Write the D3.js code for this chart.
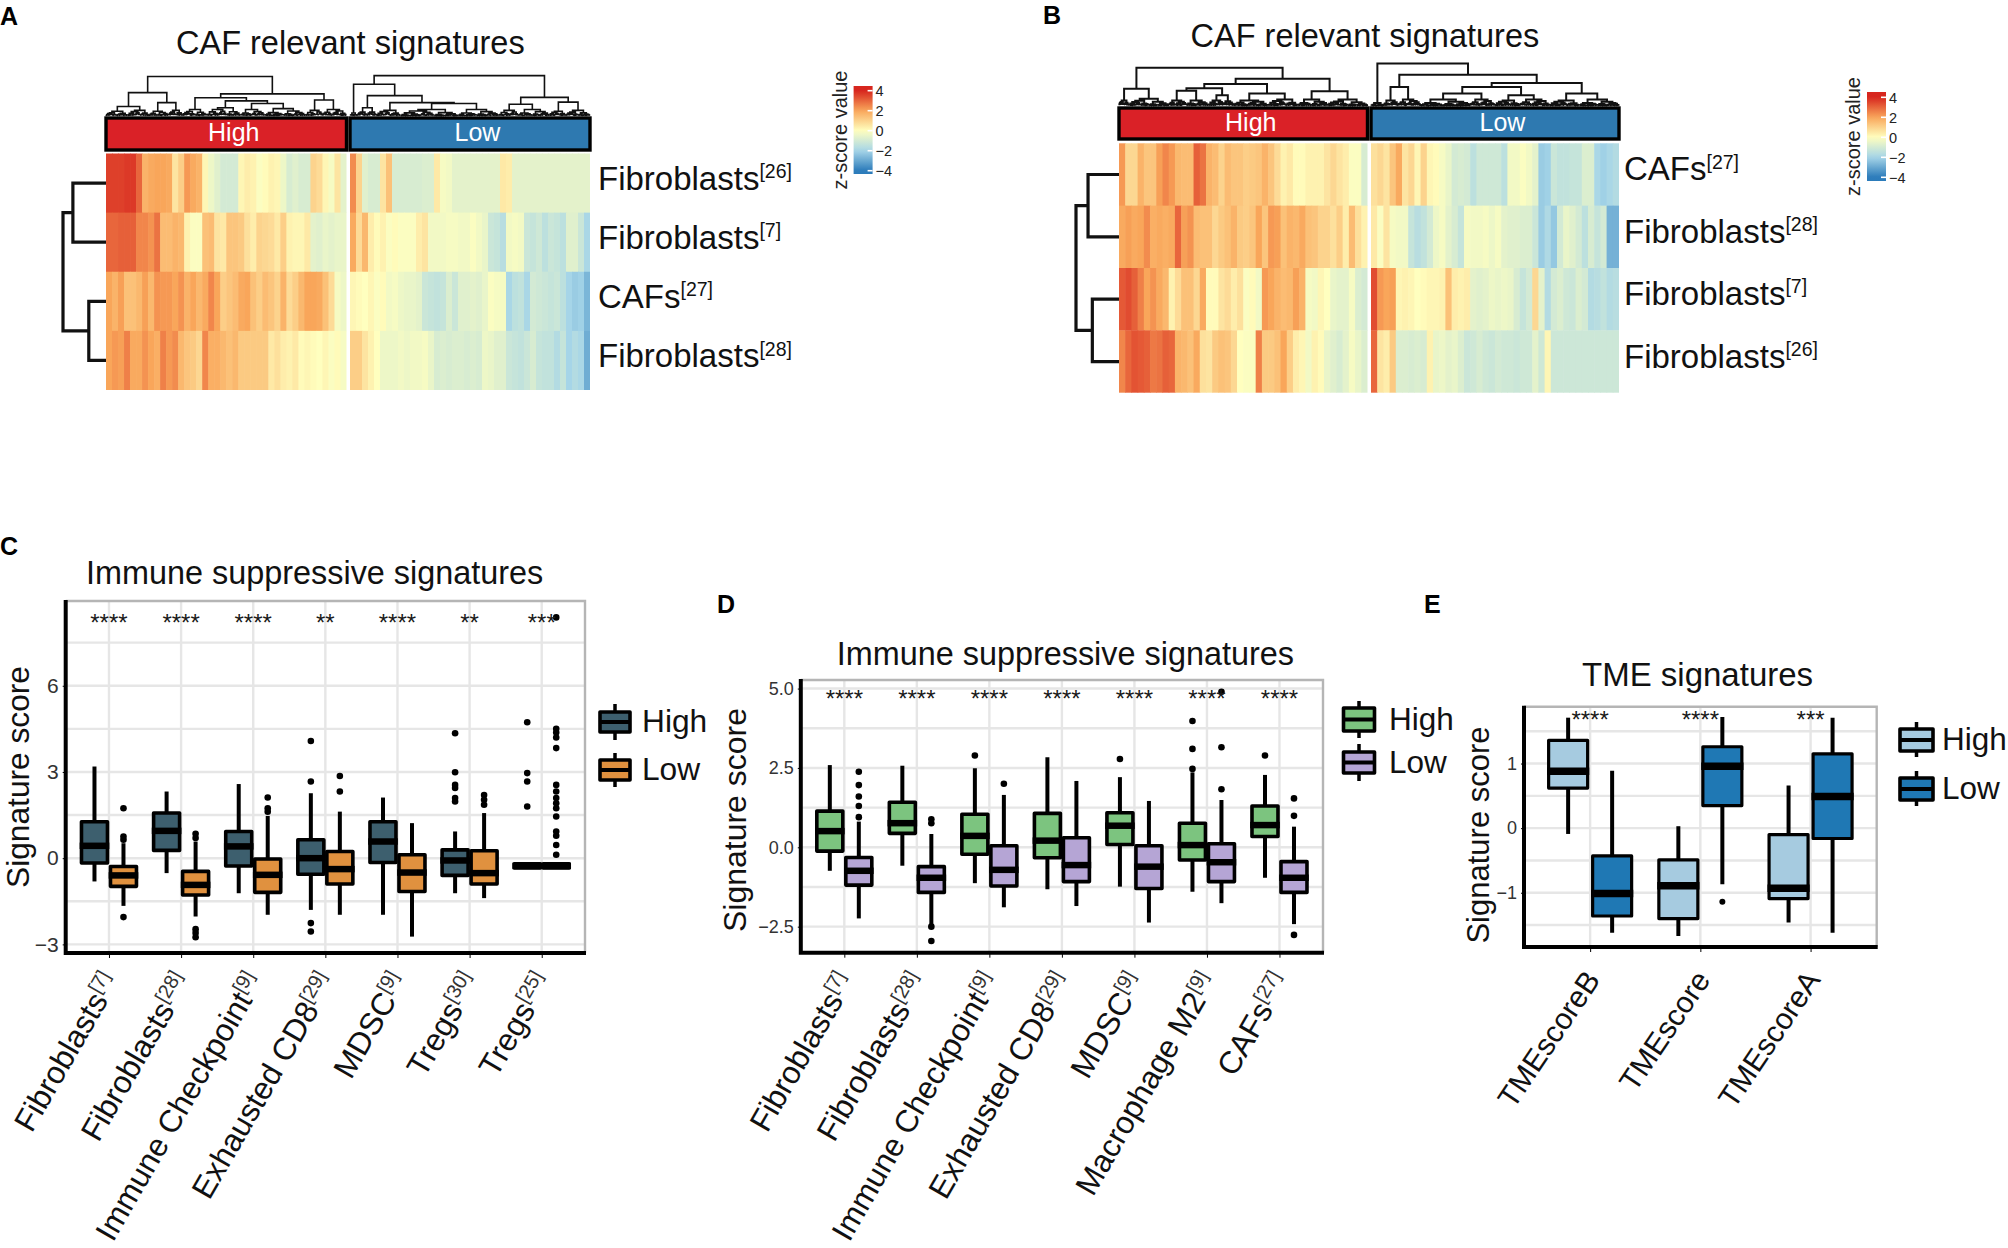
<!DOCTYPE html>
<html><head><meta charset="utf-8">
<script src="https://cdn.jsdelivr.net/npm/d3@7/dist/d3.min.js"></script>
<style>html,body{margin:0;background:#fff}svg{display:block}text{font-family:"Liberation Sans",Arial,sans-serif}</style>
</head><body><svg id="c" width="2008" height="1248"></svg>
<script>
// ===== Heatmap A =====
const rowsA=['Fibroblasts','Fibroblasts','CAFs','Fibroblasts'], supA=['[26]','[7]','[27]','[28]'];
const aHigh26=[3.6,3.6,3.6,3.7,3.7,3.0,1.7,1.9,2.0,2.0,1.9,.6,1.1,2.2,1.9,1.7,.2,-.4,-.7,-1,-1,-1,.2,.4,.3,-.1,.1,.3,.2,-.4,-.9,-.7,-.9,-.9,1.0,.8,.2,-.2,.6,-.6];
const aLow26=[2.4,1.0,-.7,-.9,-.9,.6,1.4,-.9,-.9,-.9,-.9,-.9,-.8,-.8,.5,-.2,-.3,-.6,-.6,-.6,-.6,-.6,-.6,-.6,-.6,.5,.4,-.6,-.6,-.6,-.6,-.6,-.6,-.6,-.6,-.6,-.6,-.6,-.6,-.6];
const aHigh7=[3.0,3.0,3.1,3.1,3.1,2.5,2.5,2.3,2.8,1.5,1.5,1.7,1.6,.3,-.1,-.1,1.4,1.5,.6,.5,1.3,1.3,1.2,.7,.4,1.0,.9,.8,.5,1.1,.3,.2,.2,.5,-.6,-.7,-.5,-.6,-.5,-.5];
const aLow7=[1.9,.8,1.6,.4,.1,.3,-.1,.1,-.1,-.1,-.1,.4,.6,-.3,-.3,-.3,-.2,-.2,-.3,-.3,-.1,-.3,-.5,-1.2,-1.3,-1.6,-.3,-.2,-.3,-1.2,-1.3,-1.1,-1.5,-1.2,-1.3,-1.5,-.7,-.7,-1.2,-1.9];
const aHigh27=[2.0,1.7,2.1,1.4,1.4,1.6,2.1,1.6,2.3,2.2,2.2,2.0,2.3,1.7,2.0,1.6,1.9,2.5,2.0,1.1,1.3,1.5,1.9,2.0,1.4,1.1,1.5,1.3,1.0,1.7,.8,1.1,1.6,2.0,2.0,1.9,1.4,.8,-.2,-.4];
const aLow27=[.2,.1,0,.2,-.1,.1,-.3,-.2,-.4,-.5,-.5,-.6,-1.2,-1.3,-1.4,-1.3,-.8,-1.2,-.7,-.7,-.6,-.7,-.5,-.1,-.2,-.2,-1.9,-1.5,-1.4,-1.9,-1.0,-1.1,-1.2,-1.3,-1.2,-1.5,-2.0,-2.2,-2.1,-2.7];
const aHigh28=[2.0,2.2,2.1,2.6,1.9,1.9,2.3,2.0,1.8,2.6,2.2,2.4,1.6,1.3,1.2,.9,2.5,1.8,1.8,1.6,1.4,1.6,1.2,1.2,1.2,1.2,1.2,.5,.7,.4,.3,.5,.1,.2,.1,0,.2,-.1,.1,-.2];
const aLow28=[1.1,1.1,.6,.3,0,-.4,-.4,-.4,-.3,-.4,-.3,-.3,-.2,-.5,-.9,-.8,-.9,-.8,-.8,-.9,-.8,-.9,-.4,-.5,-.7,-.7,-1.2,-1.3,-1.4,-1.2,-.9,-1.3,-1.4,-1.4,-1.7,-1.3,-2.0,-1.7,-1.9,-2.9];
// ===== Heatmap B =====
const rowsB=['CAFs','Fibroblasts','Fibroblasts','Fibroblasts'], supB=['[27]','[28]','[7]','[26]'];
const bHigh27=[2.2,.9,.9,1.7,1.3,1.3,2.1,2.5,2.2,1.6,1.5,1.5,3.1,2.8,1.7,1.5,1.0,1.5,1.3,1.3,1.1,1.2,1.3,1.7,1.3,.8,.3,.5,.1,.1,.3,.3,.3,.6,.9,.6,.4,-.1,-.1,-.9];
const bLow27=[.7,.9,.6,1.3,1.9,.6,.9,.2,1.0,.2,.1,-.2,-.5,-1.0,-.9,-1.0,-1.5,-1.1,-1.1,-1.1,-1.1,-1.5,-.3,-.3,-.1,-.3,-.6,-2.2,-2.1,-1.2,-1.4,-1.4,-1.3,-1.3,-.8,-.8,-1.9,-2.1,-1.9,-1.7];
const bHigh28=[1.9,2.1,1.9,2.0,2.4,1.8,1.9,1.8,1.9,3.0,2.1,2.3,1.5,1.4,1.4,.9,1.2,1.4,1.7,1.2,1.1,1.3,2.0,1.3,2.2,2.1,1.4,1.7,1.6,1.9,1.4,1.3,1.0,1.0,.7,1.1,.4,1.5,.7,.3];
const bLow28=[.5,-.1,.6,-.2,-.3,-.3,-1.3,-1.6,-1.4,-1.0,-.4,-.2,-.6,-.9,-1.3,-.2,-.3,-.3,-.2,-.4,-.2,-.6,-.7,-.7,-.8,-.8,-1.2,-2.2,-1.8,-2.3,-1.0,-.5,-.7,-1.0,-1.5,-.9,-1.3,-1.0,-2.8,-2.8];
const bHigh7=[3.2,3.4,3.1,2.6,2.0,2.3,1.9,1.6,.3,.8,1.4,1.4,.9,1.9,.1,.1,.6,.8,.4,.7,-.1,.1,-.3,2.2,2.0,1.7,1.5,1.6,2.1,1.7,-.2,-.3,.2,0,-.5,-.6,-.6,-.2,-.8,-1.0];
const bLow7=[3.4,2.2,2.0,2.1,.2,.3,.2,0,.1,.2,.2,.3,1.4,.4,.3,.4,-.6,-.7,-.6,-.4,-.5,-.4,-.5,-.9,-1.3,-1.0,.9,-.6,-1.7,-1.0,-.8,-1.1,-1.2,-.8,-1.0,-1.7,-1.6,-1.4,-1.7,-1.6];
const bHigh26=[2.5,3.0,3.3,3.2,3.1,2.7,2.8,3.1,3.0,1.7,1.6,1.4,1.9,.7,.6,1.2,1.4,1.3,.9,0,-.1,-.1,2.6,1.2,1.2,1.4,2.0,1.1,.4,.2,-.3,.3,.1,-.5,-.7,-.9,-.6,-.2,-.5,-.8];
const bLow26=[3.0,.6,.4,1.2,-.8,-.8,-.9,-.8,-.9,.3,-.5,-.4,-.6,-.5,-.8,-1.2,-1.1,-.9,-1.1,-1.2,-1.0,-1.1,-1.1,-1.2,-1.1,-1.1,-.6,-1.1,.2,-1.15,-1.15,-1.15,-1.15,-1.15,-1.15,-1.15,-1.15,-1.15,-1.15,-1.15];
// dendrograms: [height, left, right]; a leaf bush is [from%, to%, height]
const treeAHigh=[92,[55,[23,[0,9,12],[9,18,14]],[32,[18,26,12],[26,32,14]]],[52,[43,[32,42,16],[36,[42,56,20],[30,[56,66,16],[66,83,18]]]],[38,[83,90,14],[90,100,16]]]];
const treeALow=[94,[74,[8,[0,1.5,4],[1.5,3,4]],[48,[20,[3,7,10],[7,11,10]],[32,[11,21,14],[30,[21,45,16],[45,62,16]]]]],[44,[28,[62,70,14],[70,83,16]],[33,[83,90,12],[90,100,14]]]];
const treeBHigh=[89,[41,[0,4,14],[4,20,18]],[64,[52,[42,[36,[20,27,14],[27,36,14]],[26,[36,42,14],[42,46,12]]],[30,[46,60,14],[60,72,16]]],[35,[72,84,16],[84,100,16]]]];
const treeBLow=[99,[8,[0,2.5,4],[2.5,5,4]],[73,[45,[5,11,14],[11,20,16]],[54,[45,[30,[20,40,16],[40,50,16]],[26,[50,60,14],[60,72,16]]],[30,[72,84,14],[84,100,16]]]]];
const hairRatio=[.72,.6,.8,.55,.66,.75,.5,.7,.62,.78], hairSplit=[.5,.42,.58,.36,.6,.5,.45,.55,.4,.62];
// left-hand row dendrograms
const rowTreeA=[100,[77,0,1],[40,2,3]], rowTreeB=[100,[72,0,1],[62,2,3]];
// colour legend
const zStops=[-4,-2,0,2,4], zColors=['#2b7bba','#a6d5e8','#ffffbf','#f9a65a','#d7261e'], zTicks=[4,2,0,-2,-4];
const groups=['High','Low'];
// ===== Panel C =====
const catsC=['Fibroblasts','Fibroblasts','Immune Checkpoint','Exhausted CD8','MDSC','Tregs','Tregs'], supC=['[7]','[28]','[9]','[29]','[9]','[30]','[25]'];
const starsC=['****','****','****','**','****','**','***'], ticksC=[-3,0,3,6], minorC=[-1.5,1.5,4.5,7.5];
const cHigh={wl:[-.81,-.52,-1.22,-1.8,-1.97,-1.22,-.27],q1:[-.17,.27,-.27,-.56,-.15,-.6,-.27],med:[.43,.95,.41,0,.58,-.08,-.27],q3:[1.27,1.57,.93,.64,1.27,.29,-.27],wu:[3.19,2.32,2.58,2.26,2.11,.93,-.27]};
const cLow={wl:[-1.66,-2.03,-1.97,-1.97,-2.73,-1.39,-.27],q1:[-.98,-1.28,-1.19,-.9,-1.16,-.9,-.27],med:[-.6,-.93,-.58,-.38,-.5,-.52,-.27],q3:[-.29,-.46,-.03,.23,.12,.26,-.27],wu:[.52,.58,1.47,1.62,1.22,1.57,-.27]};
const cHighOut=[[],[],[],[2.67,4.08,-2.26,-2.55],[],[4.35,2.99,2.55,2.44,2.09,1.97],[4.73,2.96,2.67,1.8]];
const cLowOut=[[1.74,.75,.64,-2.05],[.85,.7,-2.47,-2.6,-2.75],[2.11,1.74,1.62],[2.86,2.32],[],[2.2,2.03,1.86],[8.38,4.5,4.37,4.2,3.83,2.55,2.32,2.09,1.91,1.74,1.45,.93,.78,.46,.12]];
// ===== Panel D =====
const catsD=['Fibroblasts','Fibroblasts','Immune Checkpoint','Exhausted CD8','MDSC','Macrophage M2','CAFs'], supD=['[7]','[28]','[9]','[29]','[9]','[9]','[27]'];
const starsD=['****','****','****','****','****','****','****'], ticksD=[-2.5,0,2.5,5], minorD=[-1.25,1.25,3.75];
const dHigh={wl:[-.74,-.58,-1.13,-1.32,-1.24,-1.4,-.96],q1:[-.12,.44,-.22,-.33,.09,-.4,.34],med:[.51,.76,.36,.21,.68,.07,.7],q3:[1.14,1.42,1.04,1.07,1.09,.76,1.3],wu:[2.59,2.57,2.49,2.84,2.21,2.36,2.28]};
const dLow={wl:[-2.24,-2.45,-1.89,-1.85,-2.37,-1.76,-2.42],q1:[-1.19,-1.42,-1.22,-1.08,-1.3,-1.08,-1.42],med:[-.74,-.96,-.71,-.56,-.61,-.47,-.96],q3:[-.32,-.61,.05,.3,.05,.11,-.45],wu:[.81,.42,1.65,2.09,1.46,1.49,.65]};
const dHighOut=[[],[],[2.89],[],[2.78],[3.98,3.1,2.47],[2.89]];
const dLowOut=[[2.38,1.96,1.6,1.3,.95],[.88,.76,-2.5,-2.95],[2.0],[],[],[4.9,3.15,1.83],[1.54,.99,-2.76]];
// ===== Panel E =====
const catsE=['TMEscoreB','TMEscore','TMEscoreA'], supE=['','',''], starsE=['****','****','***'], ticksE=[-1,0,1], minorE=[-1.5,-.5,.5,1.5];
const eHigh={wl:[-.09,-1.67,-1.46],q1:[.62,-1.4,-1.09],med:[.88,-.89,-.93],q3:[1.36,-.49,-.1],wu:[1.71,.03,.66]};
const eLow={wl:[-1.62,-.87,-1.62],q1:[-1.36,.35,-.16],med:[-1.01,.96,.49],q3:[-.43,1.26,1.15],wu:[.89,1.72,1.71]};
const eHighOut=[[],[],[]], eLowOut=[[],[-1.14],[]];

const svg=d3.select('#c');
const defs=svg.append('defs');
const FONT='"Liberation Sans",Arial,sans-serif';
const color=d3.scaleLinear().domain(zStops).range(zColors).clamp(true);
const txt=(g,x,y,s,size,o={})=>g.append('text').attr('x',x).attr('y',y).attr('font-size',size).attr('fill',o.fill||'#111').attr('text-anchor',o.anchor||'start').attr('font-weight',o.weight||null).text(s);
function supText(g,x,y,s,sup,size,ssize){
  const t=g.append('text').attr('x',x).attr('y',y).attr('font-size',size).attr('fill','#111');
  t.append('tspan').text(s);
  t.append('tspan').attr('font-size',ssize).attr('dy',-size*.36).text(sup);
}
function drawHeat(p){
  const g=svg.append('g');
  const yR=d3.scaleBand().domain(d3.range(p.rows.length)).range([p.y0,p.y1]);
  [[p.x0,p.xm0,p.high],[p.xm1,p.x1,p.low]].forEach(([a,b,mat],side)=>{
    mat.forEach((vals,r)=>{
      const xB=d3.scaleBand().domain(d3.range(vals.length)).range([a,b]);
      g.selectAll(null).data(vals).join('rect')
        .attr('x',(d,i)=>xB(i)).attr('y',yR(r)).attr('width',(d,i)=>xB.bandwidth()+(i<vals.length-1?.6:0)).attr('height',yR.bandwidth()+(r<mat.length-1?.4:0)).attr('fill',d=>color(d));
    });
    // annotation bar
    g.append('rect').attr('x',a).attr('y',p.ay0).attr('width',b-a).attr('height',p.ay1-p.ay0).attr('fill',side?'#2e79b0':'#da2127').attr('stroke','#000').attr('stroke-width',3.4);
    txt(g,(a+b)/2+7.5,p.ay1-(p.ay1-p.ay0)*.3+1,groups[side],25,{fill:'#fff',anchor:'middle'});
    // column dendrogram
    const tree=side?p.treeLow:p.treeHigh;
    const xS=d3.scaleLinear().domain([0,100]).range([a,b]), hS=d3.scaleLinear().domain([0,100]).range([p.ay0-1.5,p.dTop]);
    const path=d3.path(); let c=0;
    const bush=(from,to,h,depth)=>{
      if(xS(to)-xS(from)<1.3||depth>10) return (from+to)/2;
      const m=from+(to-from)*hairSplit[c%hairSplit.length];
      const hl=h*hairRatio[c++%hairRatio.length], hr=h*hairRatio[c++%hairRatio.length];
      const xa=bush(from,m,hl,depth+1), xb=bush(m,to,hr,depth+1);
      link(xa,xb,hl,hr,h); return (xa+xb)/2;
    };
    const link=(xa,xb,ha,hb,h)=>{path.moveTo(xS(xa),hS(ha));path.lineTo(xS(xa),hS(h));path.lineTo(xS(xb),hS(h));path.lineTo(xS(xb),hS(hb));};
    const walk=n=>{
      if(n.length===3&&typeof n[0]==='number'&&typeof n[1]==='number'){ return {x:bush(n[0],n[1],n[2],0),h:n[2]}; }
      const l=walk(n[1]),r=walk(n[2]); link(l.x,r.x,l.h,r.h,n[0]); return {x:(l.x+r.x)/2,h:n[0]};
    };
    walk(tree);
    g.append('path').attr('d',path.toString()).attr('fill','none').attr('stroke','#111').attr('stroke-width',p.hair);
  });
  // row dendrogram
  const hS=d3.scaleLinear().domain([0,100]).range([p.x0,p.rootX]);
  const lp=d3.path();
  const cy=i=>yR(i)+yR.bandwidth()/2;
  const wr=n=>{ if(typeof n==='number') return {y:cy(n),h:0};
    const a=wr(n[1]),b=wr(n[2]); lp.moveTo(hS(a.h),a.y);lp.lineTo(hS(n[0]),a.y);lp.lineTo(hS(n[0]),b.y);lp.lineTo(hS(b.h),b.y); return {y:(a.y+b.y)/2,h:n[0]}; };
  wr(p.rowTree);
  g.append('path').attr('d',lp.toString()).attr('fill','none').attr('stroke','#111').attr('stroke-width',3.2);
  p.rows.forEach((r,i)=>supText(g,p.lx,cy(i)+p.ldy[i],r,p.sups[i],33,19.5));
  txt(g,p.tx,p.ty,'CAF relevant signatures',32.5,{});
  // colour key
  const id='grad'+p.id;
  const zS=d3.scaleLinear().domain([4,-4]).range([p.zy4,p.zy4+80]);
  const gr=defs.append('linearGradient').attr('id',id).attr('x1',0).attr('x2',0).attr('y1',0).attr('y2',1);
  const topV=zS.invert(p.cy0), botV=zS.invert(p.cy1);
  d3.range(0,21).forEach(i=>{const v=topV+(botV-topV)*i/20; gr.append('stop').attr('offset',i/20).attr('stop-color',color(v));});
  g.append('rect').attr('x',p.cx).attr('y',p.cy0).attr('width',19).attr('height',p.cy1-p.cy0).attr('fill','url(#'+id+')');
  zTicks.forEach(t=>{
    g.append('line').attr('x1',p.cx+14).attr('x2',p.cx+19).attr('y1',zS(t)).attr('y2',zS(t)).attr('stroke','#fff').attr('stroke-width',1.6);
    txt(g,p.cx+22,zS(t)+5.5,t<0?'\u2212'+(-t):String(t),14.5,{fill:'#222'});
  });
  g.append('text').attr('transform',`translate(${p.cx-7},${(p.cy0+p.cy1)/2}) rotate(-90)`).attr('text-anchor','middle').attr('font-size',20).attr('fill','#222').text('z-score value');
}
drawHeat({id:'A',rows:rowsA,sups:supA,high:[aHigh26,aHigh7,aHigh27,aHigh28],low:[aLow26,aLow7,aLow27,aLow28],
  x0:106,xm0:346.5,xm1:350,x1:590,y0:153.5,y1:390,ay0:118,ay1:150,dTop:73,hair:1.6,treeHigh:treeAHigh,treeLow:treeALow,
  rowTree:rowTreeA,rootX:63,lx:598,ldy:[7,7,7,7],tx:176,ty:54,cx:853.6,cy0:86,cy1:174,zy4:90.7});
drawHeat({id:'B',rows:rowsB,sups:supB,high:[bHigh27,bHigh28,bHigh7,bHigh26],low:[bLow27,bLow28,bLow7,bLow26],
  x0:1119,xm0:1367.5,xm1:1371,x1:1619,y0:143.3,y1:392.7,ay0:108,ay1:139,dTop:63,hair:2,treeHigh:treeBHigh,treeLow:treeBLow,
  rowTree:rowTreeB,rootX:1076,lx:1624,ldy:[6,6,6,6],tx:1190.6,ty:47,cx:1867,cy0:92,cy1:181,zy4:97.3});

function drawBox(p){
  const g=svg.append('g');
  const y=d3.scaleLinear().domain(p.yDom).range([p.y1,p.y0]);
  const keys=p.cats.map((c,i)=>i);
  const x=d3.scalePoint().domain(keys).range([p.x0,p.x1]).padding(.6);
  const grp=d3.scaleBand().domain(groups).range([-p.w,p.w]);
  const grid='#e6e6e6';
  g.selectAll(null).data(p.minor.concat(p.ticks)).join('line').attr('x1',p.x0).attr('x2',p.x1).attr('y1',d=>y(d)).attr('y2',d=>y(d)).attr('stroke',grid).attr('stroke-width',2.4);
  g.selectAll(null).data(keys).join('line').attr('x1',d=>x(d)).attr('x2',d=>x(d)).attr('y1',p.y0).attr('y2',p.y1).attr('stroke',grid).attr('stroke-width',2.4);
  g.append('path').attr('d',`M${p.x0},${p.y0}H${p.x1}V${p.y1}`).attr('fill','none').attr('stroke','#b5b5b5').attr('stroke-width',2.4);
  // axes
  const ax=d3.axisLeft(y).tickValues(p.ticks).tickSize(3).tickPadding(4).tickFormat(p.fmt);
  const ag=g.append('g').attr('transform',`translate(${p.x0},0)`).call(ax);
  ag.select('.domain').remove();
  ag.selectAll('text').attr('font-size',p.tickSize).attr('fill','#333').attr('font-family',FONT);
  const bx=d3.axisBottom(x).tickSize(5).tickFormat('');
  const bg=g.append('g').attr('transform',`translate(0,${p.y1})`).call(bx);
  bg.select('.domain').remove();
  g.append('path').attr('d',`M${p.x0},${p.y0-1}V${p.y1}H${p.x1+1}`).attr('fill','none').attr('stroke','#000').attr('stroke-width',4);
  // boxes
  groups.forEach((gn,gi)=>{
    const s=gi?p.low:p.high, out=gi?p.lowOut:p.highOut;
    keys.forEach(k=>{
      const cx=x(k)+grp(gn)+grp.bandwidth()/2;
      const boxH=y(s.q1[k])-y(s.q3[k]), minH=4.2;
      g.append('line').attr('x1',cx).attr('x2',cx).attr('y1',y(s.wl[k])).attr('y2',y(s.wu[k])).attr('stroke','#000').attr('stroke-width',p.ws);
      g.append('rect').attr('x',cx-p.bw/2).attr('width',p.bw).attr('y',y(s.q3[k])-(boxH<minH?minH/2:0)).attr('height',Math.max(minH,boxH)).attr('fill',boxH<minH?'#000':p.colors[gi]).attr('stroke','#000').attr('stroke-width',p.bs).attr('stroke-linejoin','round');
      g.append('line').attr('x1',cx-p.bw/2-p.bs/2).attr('x2',cx+p.bw/2+p.bs/2).attr('y1',y(s.med[k])).attr('y2',y(s.med[k])).attr('stroke','#000').attr('stroke-width',p.ms);
      g.selectAll(null).data(out[k]).join('circle').attr('cx',cx).attr('cy',d=>y(d)).attr('r',p.r).attr('fill','#000');
    });
  });
  // stars
  keys.forEach(k=>txt(g,x(k),p.sy,p.stars[k],24,{anchor:'middle',fill:'#1a1a1a'}));
  // labels
  keys.forEach(k=>{
    const t=g.append('text').attr('transform',`translate(${x(k)+p.lxo},${p.lyo}) rotate(${p.rot})`).attr('text-anchor','end').attr('font-size',p.xSize).attr('fill','#111');
    t.append('tspan').text(p.cats[k]);
    if(p.sups[k]) t.append('tspan').attr('font-size',20).attr('dy',-11).attr('fill','#333').text(p.sups[k]);
  });
  txt(g,p.tx,p.ty,p.title,p.tsize);
  g.append('text').attr('transform',`translate(${p.ylx},${p.yly}) rotate(-90)`).attr('text-anchor','middle').attr('font-size',p.ylSize).attr('fill','#111').text('Signature score');
  // legend
  groups.forEach((gn,gi)=>{
    const L=p.legend[gi];
    g.append('line').attr('x1',L.xc).attr('x2',L.xc).attr('y1',L.w0).attr('y2',L.w1).attr('stroke','#000').attr('stroke-width',3.5);
    g.append('rect').attr('x',L.xc-p.lw/2).attr('width',p.lw).attr('y',L.r0).attr('height',L.r1-L.r0).attr('fill',p.colors[gi]).attr('stroke','#000').attr('stroke-width',3.6).attr('stroke-linejoin','round');
    g.append('line').attr('x1',L.xc-p.lw/2).attr('x2',L.xc+p.lw/2).attr('y1',(L.r0+L.r1)/2).attr('y2',(L.r0+L.r1)/2).attr('stroke','#000').attr('stroke-width',4);
    txt(g,p.ltx,L.b,gn,p.lsize);
  });
}
const minus=d=>d<0?'\u2212'+Math.abs(d):String(d);
const minus1=d=>d<0?'\u2212'+Math.abs(d).toFixed(1):d.toFixed(1);
drawBox({cats:catsC,sups:supC,stars:starsC,high:cHigh,low:cLow,highOut:cHighOut,lowOut:cLowOut,ticks:ticksC,minor:minorC,fmt:minus,tickSize:21,
  x0:65.7,x1:585,y0:601,y1:953,yDom:[-3.3,8.95],w:29,bw:26,bs:3.6,ms:6.5,ws:4,r:3.3,colors:['#3d5f6e','#e0913f'],sy:631,lxo:11,lyo:981,rot:-60,xSize:31.5,
  title:'Immune suppressive signatures',tx:86,ty:584,tsize:32.4,ylx:29,yly:777,ylSize:31.7,
  legend:[{xc:615,w0:704,w1:740,r0:712,r1:732,b:732},{xc:615,w0:753,w1:787,r0:760,r1:780,b:780}],lw:30,ltx:642,lsize:31.7});
drawBox({cats:catsD,sups:supD,stars:starsD,high:dHigh,low:dLow,highOut:dHighOut,lowOut:dLowOut,ticks:ticksD,minor:minorD,fmt:minus1,tickSize:18,
  x0:800.8,x1:1323,y0:680,y1:952.7,yDom:[-3.32,5.27],w:29,bw:26,bs:3.6,ms:6.5,ws:4,r:3.3,colors:['#7cc47f','#b5a5d5'],sy:707,lxo:11,lyo:981,rot:-60,xSize:31.5,
  title:'Immune suppressive signatures',tx:836.7,ty:665,tsize:32.4,ylx:746,yly:820,ylSize:32,
  legend:[{xc:1359,w0:701,w1:738,r0:708,r1:731,b:730},{xc:1359,w0:744,w1:781,r0:752,r1:773,b:772.7}],lw:31,ltx:1389,lsize:31.5});
drawBox({cats:catsE,sups:supE,stars:starsE,high:eHigh,low:eLow,highOut:eHighOut,lowOut:eLowOut,ticks:ticksE,minor:minorE,fmt:minus,tickSize:18,
  x0:1524,x1:1876.7,y0:706.7,y1:947,yDom:[-1.84,1.88],w:44,bw:39,bs:3.2,ms:7.5,ws:4,r:3,colors:['#a6cbe0','#1f78b4'],sy:728,lxo:11,lyo:980,rot:-56,xSize:30,
  title:'TME signatures',tx:1582,ty:686,tsize:33,ylx:1489,yly:835,ylSize:31,
  legend:[{xc:1916.5,w0:722,w1:757,r0:729,r1:751,b:750},{xc:1916.5,w0:771,w1:806,r0:778,r1:800,b:799}],lw:33,ltx:1942,lsize:31.5});
// panel letters
[['A',0,25],['B',1043,24],['C',0,555],['D',717,613],['E',1424,613]].forEach(([s,x,y])=>txt(svg,x,y,s,25,{weight:'bold',fill:'#000'}));
</script></body></html>
